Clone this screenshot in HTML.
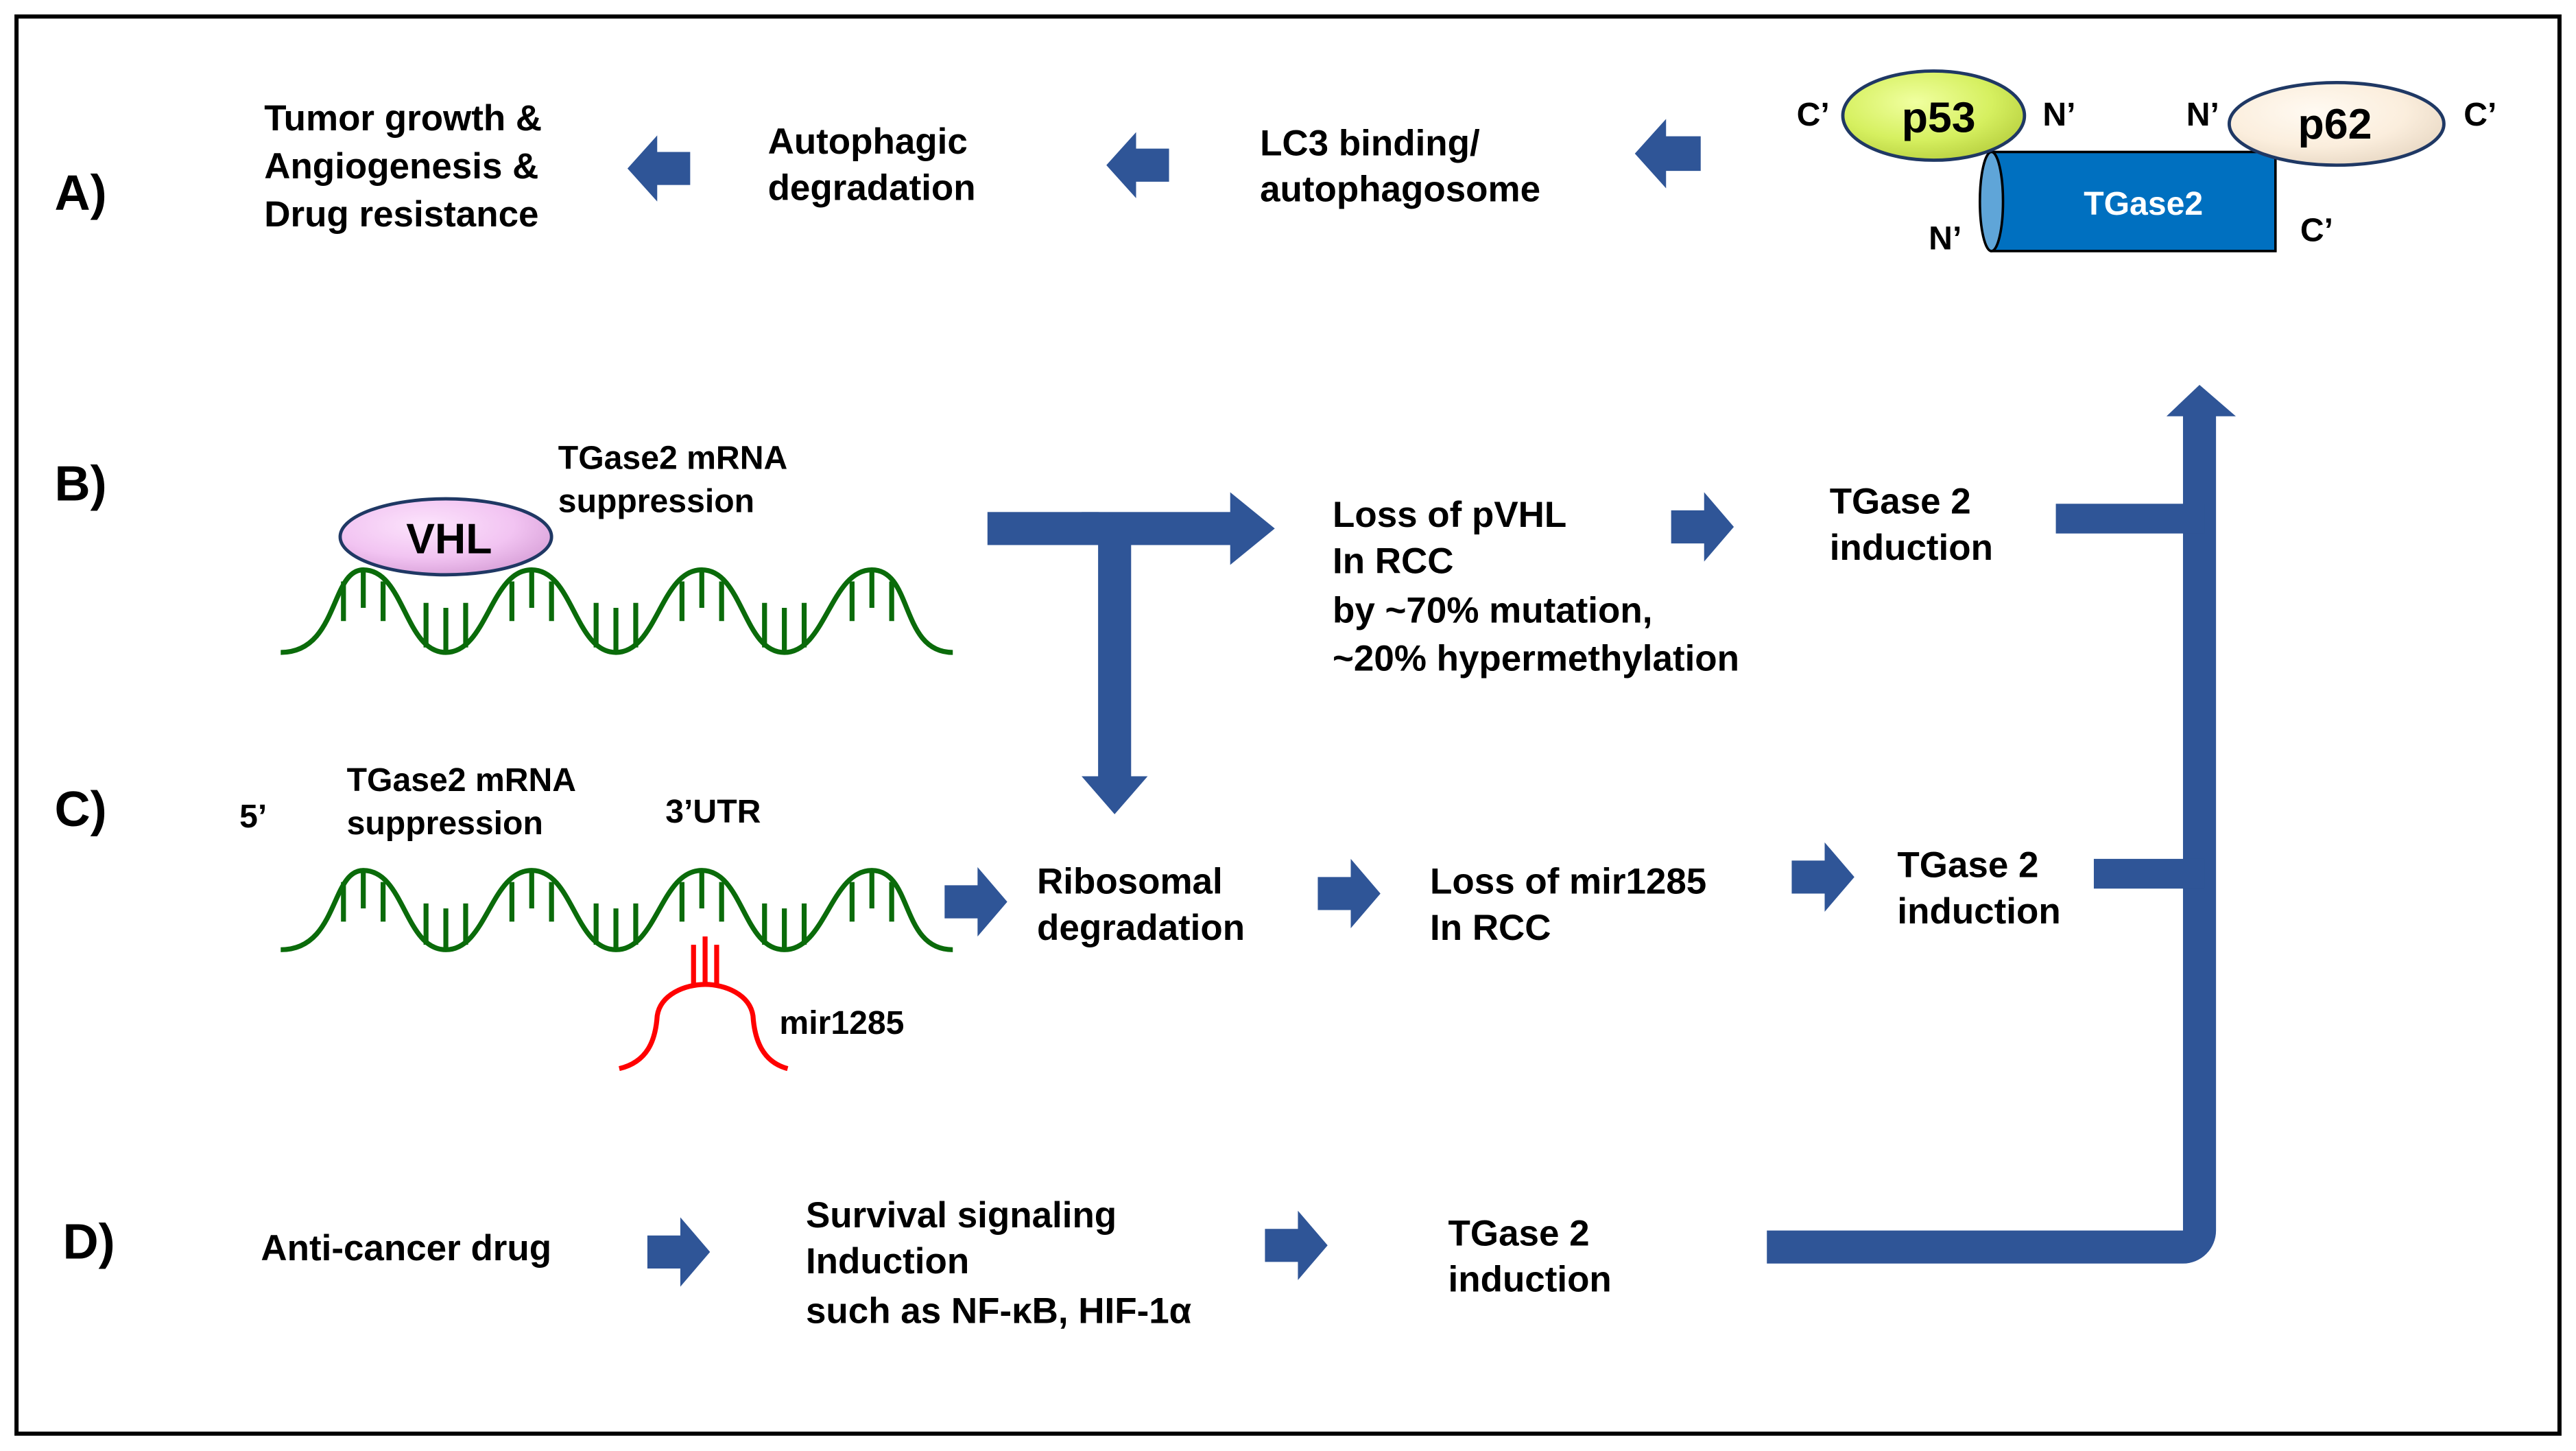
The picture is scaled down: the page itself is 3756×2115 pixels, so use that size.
<!DOCTYPE html>
<html><head><meta charset="utf-8"><style>html,body{margin:0;padding:0;background:#fff}svg{display:block}</style></head><body>
<svg width="3756" height="2115" viewBox="0 0 1560 878.5" preserveAspectRatio="none" xmlns="http://www.w3.org/2000/svg" font-family="Liberation Sans, Arial, sans-serif" font-weight="bold">
<defs>
<radialGradient id="g1" cx="0.4" cy="0.35" r="0.7"><stop offset="0" stop-color="#f0ffa0"/><stop offset="0.6" stop-color="#d6f060"/><stop offset="1" stop-color="#b8d040"/></radialGradient>
<radialGradient id="g2" cx="0.4" cy="0.35" r="0.7"><stop offset="0" stop-color="#fffaf2"/><stop offset="0.6" stop-color="#fbeedd"/><stop offset="1" stop-color="#e8d8c4"/></radialGradient>
<radialGradient id="g3" cx="0.4" cy="0.35" r="0.7"><stop offset="0" stop-color="#fce4fc"/><stop offset="0.6" stop-color="#f2c4f2"/><stop offset="1" stop-color="#d8a0d8"/></radialGradient>
<symbol id="la" viewBox="0 0 38 40"><polygon points="0,20 18,0 18,10 38,10 38,30 18,30 18,40" fill="#2f5597"/></symbol>
<symbol id="ra" viewBox="0 0 38 42"><polygon points="38,21 20,0 20,11 0,11 0,31 20,31 20,42" fill="#2f5597"/></symbol>
</defs>
<rect x="10" y="10" width="1540" height="858" fill="none" stroke="#000" stroke-width="2.5"/>

<g font-size="30"><text x="33" y="127">A)</text><text x="33" y="303">B)</text><text x="33" y="500">C)</text><text x="38" y="762">D)</text></g>
<g font-size="22" fill="#000">
<text x="160" y="79">Tumor growth &amp;</text><text x="160" y="108">Angiogenesis &amp;</text><text x="160" y="137">Drug resistance</text>
<text x="465" y="93">Autophagic</text><text x="465" y="121">degradation</text>
<text x="763" y="94">LC3 binding/</text><text x="763" y="122">autophagosome</text>
</g>
<use href="#la" x="380" y="82" width="38" height="40"/>
<use href="#la" x="670" y="80" width="38" height="40"/>
<use href="#la" x="990" y="72" width="40" height="42"/>

<g font-size="20"><text x="1088" y="76">C’</text><text x="1237" y="76">N’</text><text x="1324" y="76">N’</text><text x="1492" y="76">C’</text><text x="1168" y="151">N’</text><text x="1393" y="146">C’</text></g>
<rect x="1206" y="92" width="172" height="60" fill="#0070c0" stroke="#000" stroke-width="1.5"/>
<ellipse cx="1206" cy="122" rx="7" ry="30" fill="#5fa5d8" stroke="#000" stroke-width="1.5"/>
<text x="1298" y="130" font-size="20" fill="#fff" text-anchor="middle">TGase2</text>
<ellipse cx="1171" cy="70" rx="55" ry="27" fill="url(#g1)" stroke="#1f3864" stroke-width="2"/>
<text x="1174" y="80" font-size="26" text-anchor="middle">p53</text>
<ellipse cx="1415" cy="75" rx="65" ry="25" fill="url(#g2)" stroke="#1f3864" stroke-width="2"/>
<text x="1414" y="84" font-size="26" text-anchor="middle">p62</text>

<g stroke="#0a6b0a" stroke-width="3" fill="none">
<path d="M170,395 C205,395 200,345 220,345 C245,345 245,395 270,395 C295,395 297,345 322,345 C347,345 348,395 373,395 C398,395 400,345 425,345 C450,345 450,395 475,395 C500,395 503,345 528,345 C553,345 545,395 577,395"/>
<path d="M208,352v24M220,346v22M232,352v24M258,365v27M270,368v26M282,365v27M310,352v24M322,346v22M334,352v24M361,365v27M373,368v26M385,365v27M413,352v24M425,346v22M437,352v24M463,365v27M475,368v26M487,365v27M516,352v24M528,346v22M540,352v24"/>
<path d="M170,575 C205,575 200,527 220,527 C245,527 245,575 270,575 C295,575 297,527 322,527 C347,527 348,575 373,575 C398,575 400,527 425,527 C450,527 450,575 475,575 C500,575 503,527 528,527 C553,527 545,575 577,575"/>
<path d="M208,534v24M220,528v22M232,534v24M258,547v25M270,550v24M282,547v25M310,534v24M322,528v22M334,534v24M361,547v25M373,550v24M385,547v25M413,534v24M425,528v22M437,534v24M463,547v25M475,550v24M487,547v25M516,534v24M528,528v22M540,534v24"/>
</g>
<ellipse cx="270" cy="325" rx="64" ry="23" fill="url(#g3)" stroke="#1f3864" stroke-width="2"/>
<text x="272" y="335" font-size="26" text-anchor="middle">VHL</text>
<g font-size="20"><text x="338" y="284">TGase2 mRNA</text><text x="338" y="310">suppression</text>
<text x="145" y="501">5’</text><text x="210" y="479">TGase2 mRNA</text><text x="210" y="505">suppression</text><text x="403" y="498">3’UTR</text><text x="472" y="626">mir1285</text></g>

<g stroke="#ff0000" stroke-width="3" fill="none">
<path d="M375,647 C392,643 397,630 398,615 C400,602 415,596 427,596 C439,596 454,602 456,615 C457,630 462,643 477,647"/>
<path d="M420,597v-25M427,597v-30M434,597v-25"/>
</g>

<g font-size="22">
<text x="807" y="319">Loss of pVHL</text><text x="807" y="347">In RCC</text><text x="807" y="377">by ~70% mutation,</text><text x="807" y="406">~20% hypermethylation</text>
<text x="1108" y="311">TGase 2</text><text x="1108" y="339">induction</text>
<text x="628" y="541">Ribosomal</text><text x="628" y="569">degradation</text>
<text x="866" y="541">Loss of mir1285</text><text x="866" y="569">In RCC</text>
<text x="1149" y="531">TGase 2</text><text x="1149" y="559">induction</text>
<text x="158" y="763">Anti-cancer drug</text>
<text x="488" y="743">Survival signaling</text><text x="488" y="771">Induction</text><text x="488" y="801">such as NF-κB, HIF-1α</text>
<text x="877" y="754">TGase 2</text><text x="877" y="782">induction</text>
</g>

<g fill="#2f5597">
<rect x="598" y="310" width="150" height="20"/>
<polygon points="745,298 772,320 745,342"/>
<path d="M655,310 h10 a20,20 0 0 1 20,20 v142 h-20 v-142 z"/>
<polygon points="655,470 695,470 675,493"/>
</g>
<use href="#ra" x="1012" y="298" width="38" height="42"/>
<use href="#ra" x="572" y="525" width="38" height="42"/>
<use href="#ra" x="798" y="520" width="38" height="42"/>
<use href="#ra" x="1085" y="510" width="38" height="42"/>
<use href="#ra" x="392" y="737" width="38" height="42"/>
<use href="#ra" x="766" y="733" width="38" height="42"/>

<g fill="#2f5597">
<path d="M1322,250 h20 v495 a20,20 0 0 1 -20,20 h-252 v-20 h252 z"/>
<polygon points="1312,252 1332,233 1354,252"/>
<rect x="1245" y="305" width="90" height="18"/>
<rect x="1268" y="520" width="67" height="18"/>
</g>
</svg>
</body></html>
